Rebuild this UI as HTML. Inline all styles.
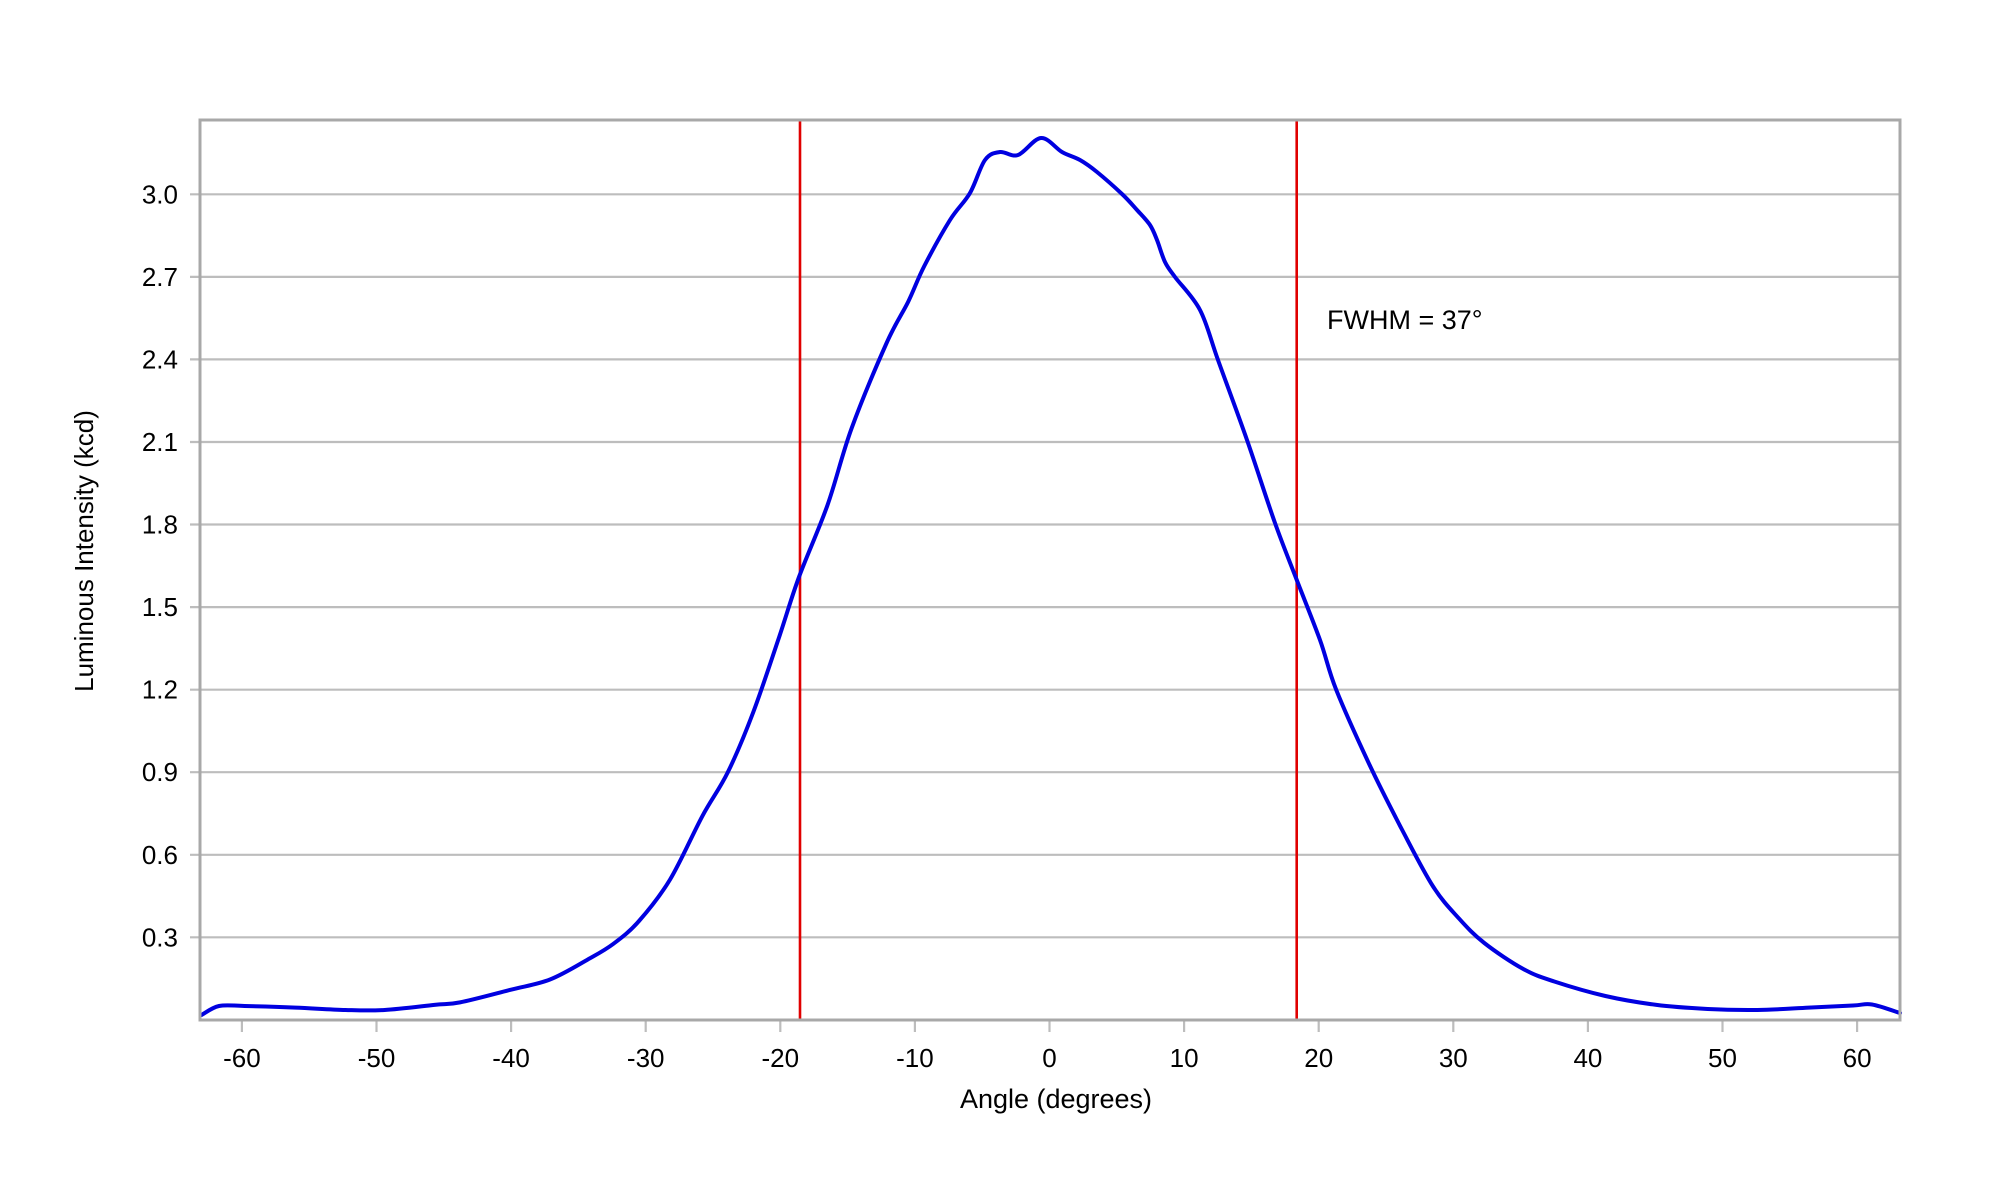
<!DOCTYPE html>
<html><head><meta charset="utf-8"><style>
html,body{margin:0;padding:0;background:#fff}
svg{display:block}
text{font-family:"Liberation Sans",Arial,sans-serif;fill:#000}
</style></head><body>
<svg id="s" width="2000" height="1200" viewBox="0 0 2000 1200" xmlns="http://www.w3.org/2000/svg">
<rect width="2000" height="1200" fill="#fff"/>
<g stroke="#bdbdbd" stroke-width="2.2">
<line x1="190" y1="194.3" x2="1900" y2="194.3"/>
<line x1="190" y1="276.9" x2="1900" y2="276.9"/>
<line x1="190" y1="359.4" x2="1900" y2="359.4"/>
<line x1="190" y1="442" x2="1900" y2="442"/>
<line x1="190" y1="524.5" x2="1900" y2="524.5"/>
<line x1="190" y1="607.1" x2="1900" y2="607.1"/>
<line x1="190" y1="689.7" x2="1900" y2="689.7"/>
<line x1="190" y1="772.2" x2="1900" y2="772.2"/>
<line x1="190" y1="854.8" x2="1900" y2="854.8"/>
<line x1="190" y1="937.3" x2="1900" y2="937.3"/>
</g>
<g stroke="#bdbdbd" stroke-width="2.2">
<line x1="241.9" y1="1020" x2="241.9" y2="1032"/>
<line x1="376.5" y1="1020" x2="376.5" y2="1032"/>
<line x1="511.1" y1="1020" x2="511.1" y2="1032"/>
<line x1="645.7" y1="1020" x2="645.7" y2="1032"/>
<line x1="780.3" y1="1020" x2="780.3" y2="1032"/>
<line x1="914.9" y1="1020" x2="914.9" y2="1032"/>
<line x1="1049.5" y1="1020" x2="1049.5" y2="1032"/>
<line x1="1184.1" y1="1020" x2="1184.1" y2="1032"/>
<line x1="1318.7" y1="1020" x2="1318.7" y2="1032"/>
<line x1="1453.3" y1="1020" x2="1453.3" y2="1032"/>
<line x1="1587.9" y1="1020" x2="1587.9" y2="1032"/>
<line x1="1722.5" y1="1020" x2="1722.5" y2="1032"/>
<line x1="1857.1" y1="1020" x2="1857.1" y2="1032"/>
</g>
<line x1="800" y1="120" x2="800" y2="1020" stroke="#e00000" stroke-width="2.6"/>
<line x1="1296.7" y1="120" x2="1296.7" y2="1020" stroke="#e00000" stroke-width="2.6"/>
<path id="curve" d="" fill="none" stroke="#0000e0" stroke-width="4" stroke-linejoin="round" stroke-linecap="round"/>
<rect x="200" y="120" width="1700" height="900" fill="none" stroke="#a8a8a8" stroke-width="3"/>
<g font-size="26" text-anchor="end">
<text x="178" y="203.5">3.0</text>
<text x="178" y="286">2.7</text>
<text x="178" y="368.5">2.4</text>
<text x="178" y="451">2.1</text>
<text x="178" y="533.5">1.8</text>
<text x="178" y="616">1.5</text>
<text x="178" y="698.5">1.2</text>
<text x="178" y="781">0.9</text>
<text x="178" y="864">0.6</text>
<text x="178" y="946.5">0.3</text>
</g>
<g font-size="26" text-anchor="middle">
<text x="241.9" y="1067">-60</text>
<text x="376.5" y="1067">-50</text>
<text x="511.1" y="1067">-40</text>
<text x="645.7" y="1067">-30</text>
<text x="780.3" y="1067">-20</text>
<text x="914.9" y="1067">-10</text>
<text x="1049.5" y="1067">0</text>
<text x="1184.1" y="1067">10</text>
<text x="1318.7" y="1067">20</text>
<text x="1453.3" y="1067">30</text>
<text x="1587.9" y="1067">40</text>
<text x="1722.5" y="1067">50</text>
<text x="1857.1" y="1067">60</text>
</g>
<text x="1056" y="1108" font-size="27" text-anchor="middle">Angle (degrees)</text>
<text transform="translate(93,551) rotate(-90)" font-size="26" text-anchor="middle">Luminous Intensity (kcd)</text>
<text x="1327" y="329" font-size="27">FWHM = 37°</text>
</svg>
<script>
var p=[[201.5,1015],[219,1006],[244.6,1006],[295.7,1007.6],[345.5,1010],[384.6,1010],[434.4,1004.9],[460,1002.4],[511,989.7],[550,979.5],[587.8,959.5],[613.4,943.8],[639,921],[670,879.6],[702.2,816.4],[727.8,772.3],[753.4,711.8],[779,637.5],[799,577],[827.4,505.4],[851.6,428.3],[886.6,343],[908.2,301.7],[924.3,266],[950,220],[970,193],[985,160],[1000,152],[1018,155],[1041,138],[1062,152],[1080,160],[1097,172],[1122,194],[1137,210],[1150,225],[1157,240],[1165,262],[1175,277],[1200,310],[1218,360],[1247,440],[1275,523],[1296,578],[1320,640],[1336.2,689.8],[1369.8,765.4],[1402.2,830],[1433.1,886.5],[1458.7,918.2],[1484.3,943],[1523.3,969],[1554.3,981.5],[1605.4,996],[1656.5,1004.9],[1707.7,1009],[1757.5,1010],[1808.6,1007.6],[1853,1005.5],[1872,1004.5],[1900,1013]];
var d="M"+p[0][0]+","+p[0][1];
for(var i=0;i<p.length-1;i++){
var a=p[Math.max(i-1,0)],b=p[i],c=p[i+1],e=p[Math.min(i+2,p.length-1)];
var c1x=b[0]+(c[0]-a[0])/6,c1y=b[1]+(c[1]-a[1])/6,c2x=c[0]-(e[0]-b[0])/6,c2y=c[1]-(e[1]-b[1])/6;
d+=" C"+c1x.toFixed(1)+","+c1y.toFixed(1)+" "+c2x.toFixed(1)+","+c2y.toFixed(1)+" "+c[0]+","+c[1];
}
document.getElementById("curve").setAttribute("d",d);
</script>
</body></html>
